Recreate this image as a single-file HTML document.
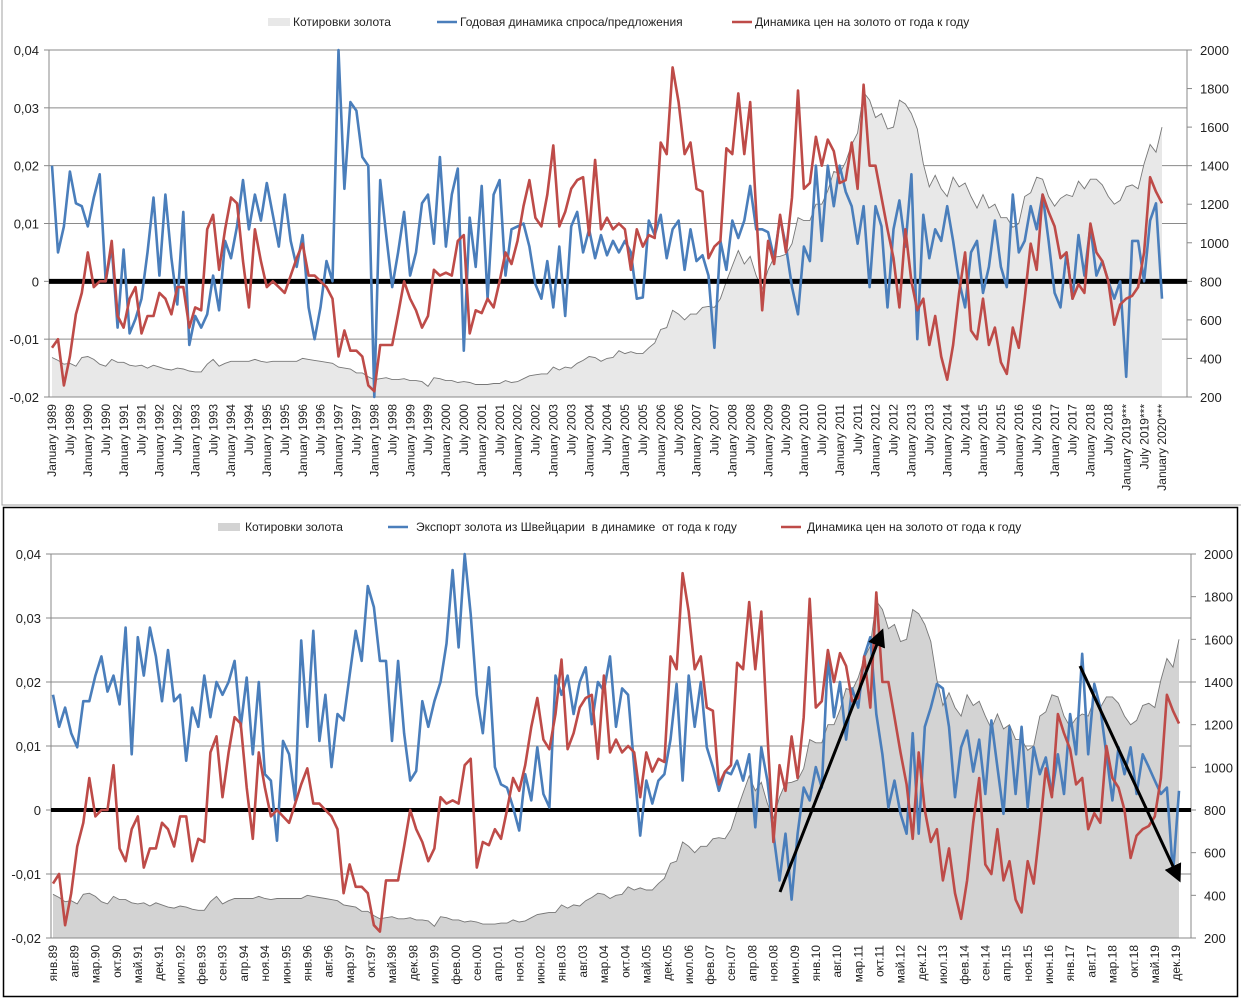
<!DOCTYPE html>
<html><head><meta charset="utf-8">
<style>
html,body{margin:0;padding:0;background:#fff;}
svg{display:block;font-family:"Liberation Sans","DejaVu Sans",sans-serif;}
</style></head>
<body>
<svg id="c" width="1241" height="999" viewBox="0 0 1241 999" xmlns="http://www.w3.org/2000/svg">
<rect x="0" y="0" width="1241" height="999" fill="#fff"/>
<rect x="2" y="-2" width="1250" height="507" fill="none" stroke="#a0a0a0" stroke-width="1"/>
<rect x="3.5" y="507.5" width="1234" height="489" fill="none" stroke="#000" stroke-width="1.5"/>
<g id="top"></g>
<g id="bot"></g>
</svg>
<script>
const goldPrice = [
405,390,370,375,360,405, 410,395,370,360,395,380, 380,365,360,365,350,365, 355,345,340,350,345,335,
330,330,370,395,360,375, 385,385,385,385,395,385, 380,385,385,385,385,385, 400,395,390,385,380,375,
355,350,345,325,325,305, 290,295,300,290,290,295, 285,285,280,255,300,295, 285,285,275,280,275,265,
265,265,270,270,285,275, 280,295,310,315,320,320, 355,340,355,350,375,390, 410,405,385,400,405,440,
425,435,425,425,455,480, 550,560,650,630,600,630, 630,665,670,665,710,800, 880,960,890,930,830,760,
860,925,930,940,995,1130, 1115,1115,1200,1200,1270,1370, 1360,1420,1510,1570,1780,1740,
1650,1670,1590,1600,1740,1720, 1670,1590,1410,1290,1350,1280, 1240,1340,1290,1310,1240,1180,
1250,1180,1200,1130,1130,1080, 1100,1240,1260,1340,1330,1240, 1190,1230,1250,1240,1320,1280,
1330,1330,1300,1240,1200,1220, 1290,1300,1280,1410,1510,1470, 1600];
const priceYoY = [
-0.0115,-0.01,-0.018,-0.013,-0.0057,-0.002, 0.005,-0.001,0,0,0.007,-0.006,
-0.008,-0.003,-0.001,-0.009,-0.006,-0.006, -0.002,-0.003,-0.0057,-0.001,-0.001,-0.008,
-0.0045,-0.005,0.009,0.0115,0.002,0.009, 0.0145,0.0135,0.0035,-0.0045,0.009,0.0035,
-0.001,0,-0.001,-0.002,0.001,0.004, 0.0065,0.001,0.001,0,-0.001,-0.003,
-0.013,-0.0085,-0.012,-0.012,-0.013,-0.018, -0.019,-0.011,-0.011,-0.011,-0.0057,0,
-0.003,-0.005,-0.008,-0.006,0.002,0.001, 0.0015,0.001,0.007,0.008,-0.009,-0.005,
-0.0055,-0.003,-0.0045,0,0.005,0.003, 0.007,0.013,0.0175,0.011,0.0095,0.015,
0.0235,0.0095,0.012,0.016,0.0175,0.018, 0.008,0.021,0.009,0.011,0.009,0.01,
0.009,0.002,0.009,0.006,0.008,0.0075, 0.024,0.022,0.037,0.031,0.022,0.024,
0.016,0.0155,0.004,0.006,0.007,0.023, 0.022,0.0325,0.022,0.031,0.012,-0.005,
0.007,0.003,0.0115,0.005,0.0145,0.033, 0.016,0.017,0.025,0.02,0.0245,0.0225,
0.017,0.0175,0.024,0.016,0.034,0.02, 0.02,0.0145,0.009,0.004,-0.0045,0.009,
0,-0.005,-0.003,-0.011,-0.006,-0.013, -0.017,-0.011,-0.002,0.005,-0.0085,-0.01,
-0.003,-0.011,-0.008,-0.014,-0.016,-0.008, -0.0115,-0.003,0.0065,0.002,0.015,0.012,
0.0095,0.004,0.005,-0.003,-0.0005,-0.002, 0.01,0.005,0.0035,0,-0.0075,-0.004,
-0.003,-0.0025,-0.001,0.005,0.018,0.0155, 0.0135];
const supplyDemand = [
0.02,0.005,0.0095,0.019,0.0135,0.013, 0.0095,0.0145,0.0185,0,0.006,-0.008,
0.0055,-0.009,-0.0065,-0.003,0.005,0.0145, 0.001,0.015,0.004,-0.004,0.012,-0.011,
-0.006,-0.008,-0.0057,0.001,-0.005,0.007, 0.004,0.0095,0.0175,0.009,0.015,0.0105,
0.017,0.0115,0.006,0.015,0.007,0.0025, 0.008,-0.0045,-0.01,-0.0045,0.0035,0,
0.04,0.016,0.031,0.0295,0.0215,0.02, -0.02,0.0175,0.008,-0.001,0.005,0.012,
0.001,0.005,0.0135,0.015,0.0065,0.0215, 0.006,0.015,0.0195,-0.012,0.011,0.0025,
0.0165,-0.003,0.015,0.0175,0.001,0.009, 0.0095,0.01,0.006,-0.0005,-0.003,0.0035,
-0.0045,0.006,-0.006,0.0095,0.012,0.005, 0.009,0.004,0.008,0.0045,0.007,0.005,
0.007,0.005,-0.003,-0.0028,0.0105,0.008, 0.0115,0.004,0.009,0.0105,0.002,0.009,
0.0035,0.0045,0.001,-0.0115,0.007,0.002, 0.0105,0.0075,0.0105,0.0165,0.009,0.009,
0.0085,0.004,0.011,0.006,-0.001,-0.0057, 0.006,0.0035,0.02,0.007,0.02,0.013,
0.02,0.0155,0.013,0.0065,0.013,-0.001, 0.013,0.0095,-0.0045,0.009,0.014,0.006,
0.0185,-0.01,0.0115,0.004,0.009,0.007, 0.013,0.007,0,-0.0045,0.005,0.007,
-0.002,0.0025,0.0105,0.0025,-0.001,0.015, 0.005,0.007,0.013,0.009,0.015,0.007,
-0.002,-0.0045,0.005,-0.003,0.008,0.001, 0.0095,0.001,0.0035,0,-0.003,0,
-0.0165,0.007,0.007,0,0.0105,0.0135, -0.003];
const swissExport = [
0.018,0.013,0.016,0.012,0.0098,0.017, 0.017,0.021,0.024,0.0185,0.021,0.0165,
0.0285,0.0087,0.027,0.021,0.0285,0.024, 0.017,0.025,0.017,0.018,0.0077,0.016,
0.013,0.021,0.0145,0.02,0.018,0.02, 0.0233,0.013,0.0207,0.0087,0.02,0.0056,
0.0046,-0.0048,0.0108,0.0087,0.0015,0.0265, 0.013,0.028,0.0108,0.018,0.0067,0.015,
0.014,0.021,0.028,0.0233,0.035,0.0317, 0.0233,0.0233,0.0108,0.0233,0.012,0.0046,
0.0061,0.017,0.013,0.017,0.02,0.026, 0.0375,0.0254,0.04,0.0306,0.018,0.012,
0.0223,0.0067,0.004,0.0035,0.0004,-0.0032, 0.0056,0.0015,0.0098,0.0025,0.0004,0.021,
0.018,0.021,0.015,0.02,0.0223,0.0134, 0.02,0.0186,0.024,0.013,0.019,0.018,
0.0067,-0.004,0.0046,0.001,0.0046,0.0056, 0.011,0.0197,0.0046,0.021,0.013,0.02,
0.0098,0.0067,0.003,0.006,0.0056,0.0077, 0.0046,0.0087,-0.0027,0.0098,0.0046,-0.0037,
-0.011,-0.0037,-0.014,-0.0037,0.0035,0.0015, 0.0067,0.0035,0.024,0.0145,0.02,0.011,
0.019,0.016,0.024,0.027,0.015,0.0087, 0.0004,0.0046,-0.0006,-0.0037,0.012,-0.0037,
0.013,0.016,0.0197,0.019,0.013,0.002, 0.0098,0.0124,0.006,0.011,0.0025,0.014,
0.0067,-0.0006,0.013,0.0025,0.013,0.0004, 0.0098,0.0056,0.0082,0.0025,0.0087,0.0025,
0.015,0.0087,0.0244,0.0087,0.0197,0.016, 0.0087,0.0015,0.0098,0.0056,0.0098,0.0025,
0.0087,0.0067,0.0046,0.0025,0.0035,-0.01, 0.003];
const leftTicks = ["0,04","0,03","0,02","0,01","0","-0,01","-0,02"];
const leftTickValues = [0.04,0.03,0.02,0.01,0,-0.01,-0.02];
const rightTicks = [2000,1800,1600,1400,1200,1000,800,600,400,200];
const enMonths = ["January","July"];
const ruMonths = ["янв","фев","мар","апр","май","июн","июл","авг","сен","окт","ноя","дек"];

const NS="http://www.w3.org/2000/svg";
function mk(parent,tag,attrs,text){const e=document.createElementNS(NS,tag);for(const k in attrs)e.setAttribute(k,attrs[k]);if(text!==undefined)e.textContent=text;parent.appendChild(e);return e;}

function drawPanel(g,cfg){
  const yL=v=>cfg.top+(0.04-v)/0.06*(cfg.bottom-cfg.top);
  const yR=p=>cfg.top+(2000-p)/1800*(cfg.bottom-cfg.top);
  const xM=m=>cfg.x0+m*cfg.dx;
  const xI=i=>xM(i*2);
  leftTickValues.forEach((v,i)=>{
    if(v!==0&&v!==-0.02){
      const gl=mk(g,'line',{x1:cfg.left,x2:cfg.right,y1:yL(v),y2:yL(v),stroke:'#8a8a8a','stroke-width':1});
      
      
    }
    const t=mk(g,'text',{x:cfg.left-10,y:yL(v)+5,'text-anchor':'end','font-size':13,fill:'#222'},leftTicks[i]);
    
    
    mk(g,'line',{x1:cfg.left-5,x2:cfg.left,y1:yL(v),y2:yL(v),stroke:'#888'});
  });
  rightTicks.forEach(p=>{
    const t=mk(g,'text',{x:cfg.right+13,y:yR(p)+5,'font-size':13,fill:'#222'},String(p));
    
    
    mk(g,'line',{x1:cfg.right,x2:cfg.right+5,y1:yR(p),y2:yR(p),stroke:'#888'});
  });
  let d='M'+xI(0)+','+cfg.bottom;
  goldPrice.forEach((p,i)=>{d+=' L'+xI(i).toFixed(1)+','+yR(p).toFixed(1);});
  d+=' L'+xI(goldPrice.length-1).toFixed(1)+','+cfg.bottom+' Z';
  const area=mk(g,'path',{d:d,fill:cfg.goldFill,stroke:'none'});
  
  
  let dl='';
  goldPrice.forEach((p,i)=>{dl+=(i?' L':'M')+xI(i).toFixed(1)+','+yR(p).toFixed(1);});
  const gl2=mk(g,'path',{d:dl,fill:'none',stroke:'#777','stroke-width':0.9});
  
  
  mk(g,'line',{x1:cfg.left,x2:cfg.left,y1:cfg.top,y2:cfg.bottom,stroke:'#888'});
  mk(g,'line',{x1:cfg.right,x2:cfg.right,y1:cfg.top,y2:cfg.bottom,stroke:'#888'});
  mk(g,'line',{x1:cfg.left,x2:cfg.right,y1:cfg.top,y2:cfg.top,stroke:'#8a8a8a'});
  mk(g,'line',{x1:cfg.left,x2:cfg.right,y1:cfg.bottom,y2:cfg.bottom,stroke:'#888'});
  const z=mk(g,'line',{x1:cfg.left,x2:cfg.right,y1:yL(0),y2:yL(0),stroke:'#000','stroke-width':cfg.zeroW});
  
  
  function line(arr,color,name){
    let s='';arr.forEach((v,i)=>{s+=(i?' L':'M')+xI(i).toFixed(1)+','+yL(v).toFixed(1);});
    const p=mk(g,'path',{d:s,fill:'none',stroke:color,'stroke-width':2.6,'stroke-linejoin':'round'});
    
    
  }
  line(cfg.blue,'#4a7ebb',cfg.blueName);
  line(priceYoY,'#be4b48','price-yoy-line');
  cfg.labels.forEach(l=>{
    const x=xM(l.m), y=cfg.bottom+7;
    const t=mk(g,'text',{x:x,y:y,transform:'rotate(-90 '+x+' '+y+')','text-anchor':'end','font-size':12,fill:'#222',dy:'0.35em'},l.t);
    
    
  });
  cfg.legend.forEach(it=>{
    if(it.type==='area'){
      const r=mk(g,'rect',{x:it.x,y:cfg.ly-4,width:22,height:8,fill:cfg.goldFill});
      
      
    } else {
      const r=mk(g,'line',{x1:it.x,x2:it.x+20,y1:cfg.ly,y2:cfg.ly,stroke:it.color,'stroke-width':2.6});
      
      
    }
    const t=mk(g,'text',{x:it.tx,y:cfg.ly+4,'font-size':12,fill:'#222','white-space':'pre',style:'white-space:pre'},it.t);
    
    
  });
}

const topLabels=[];
for(let m=0;m<=372;m+=6){const y=1989+Math.floor(m/12);const star=y>=2019?'***':'';topLabels.push({m:m,t:enMonths[(m%12)/6]+' '+y+star});}
const botLabels=[];
for(let m=0;m<=371;m+=7){const y=(1989+Math.floor(m/12))%100;botLabels.push({m:m,t:ruMonths[m%12]+'.'+String(y).padStart(2,'0')});}

drawPanel(document.getElementById('top'),{
  left:49,right:1187,top:50,bottom:397,x0:52,dx:(1162-52)/372,zeroW:5,goldFill:'#e8e8e8',
  blue:supplyDemand,blueName:'supply-demand-line',labels:topLabels,ly:22,
  legend:[{type:'area',x:268,tx:293,t:'Котировки золота'},
          {type:'line',x:437,tx:460,color:'#4a7ebb',t:'Годовая динамика спроса/предложения'},
          {type:'line',x:732,tx:755,color:'#be4b48',t:'Динамика цен на золото от года к году'}]
});
drawPanel(document.getElementById('bot'),{
  left:51,right:1191,top:554,bottom:938,x0:53,dx:(1176-53)/371,zeroW:4,goldFill:'#d3d3d3',
  blue:swissExport,blueName:'swiss-export-line',labels:botLabels,ly:527,
  legend:[{type:'area',x:218,tx:245,t:'Котировки золота'},
          {type:'line',x:388,tx:416,color:'#4a7ebb',t:'Экспорт золота из Швейцарии  в динамике  от года к году'},
          {type:'line',x:781,tx:807,color:'#be4b48',t:'Динамика цен на золото от года к году'}]
});
const svg=document.getElementById('c');
const defs=mk(svg,'defs',{});
const mkr=mk(defs,'marker',{id:'ah',markerWidth:6,markerHeight:6,refX:4,refY:3,orient:'auto',markerUnits:'strokeWidth'});
mk(mkr,'path',{d:'M0,0 L6,3 L0,6 Z',fill:'#000'});
const a1=mk(svg,'line',{x1:780,y1:892,x2:881,y2:634,stroke:'#000','stroke-width':3,'marker-end':'url(#ah)'});


const a2=mk(svg,'line',{x1:1080,y1:666,x2:1178,y2:877,stroke:'#000','stroke-width':3,'marker-end':'url(#ah)'});


</script>
</body></html>
